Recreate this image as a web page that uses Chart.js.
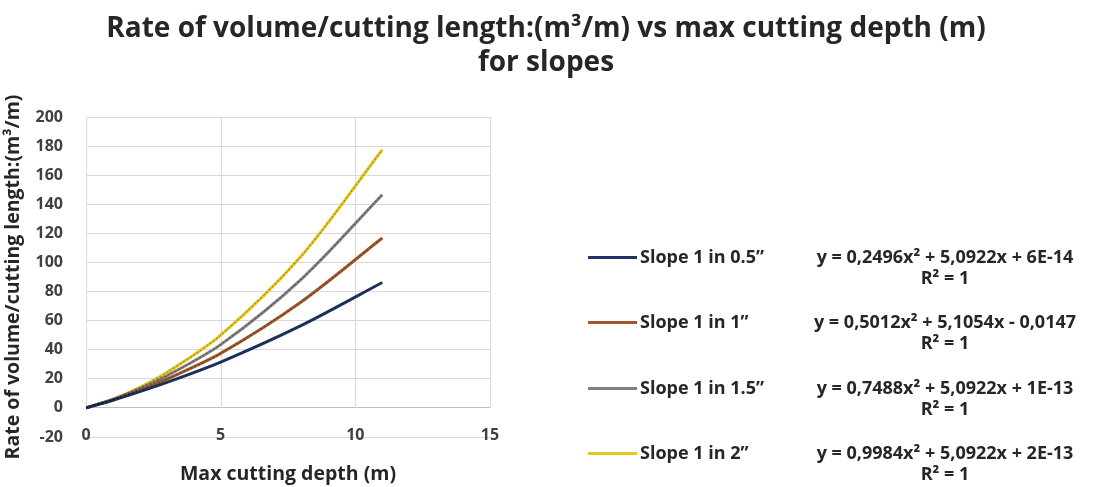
<!DOCTYPE html>
<html>
<head>
<meta charset="utf-8">
<script src="https://cdn.jsdelivr.net/npm/chart.js@4"></script>
<style>
    body { margin: 0; background: #fff; font-family: "Open Sans", sans-serif; }
    #wrap { position: relative; width: 1101px; height: 487px; }
    #title { position: absolute; left: 0; top: 9px; width: 1092px; text-align: center; font-weight: 700; font-size: 28px; line-height: 34px; color: #262626; }
    #legend { position: absolute; left: 0; top: 0; }
    .row { position: absolute; left: 588px; height: 0; }
    .swatch { position: absolute; left: 0; top: -1.5px; width: 49px; height: 3px; }
    .name { position: absolute; left: 52px; top: -13px; white-space: nowrap; font-weight: 700; font-size: 18px; color: #262626; }
    .eq { position: absolute; left: 357px; width: 0; top: -11px; text-align: center; font-weight: 700; font-size: 18px; color: #262626; line-height: 21px; }
    .eq span { display: block; white-space: nowrap; transform: translateX(-50%); width: max-content; }
</style>
</head>
<body>
<div id="wrap">
    <canvas id="slopeChart"></canvas>
    <div id="title">Rate of volume/cutting length:(m&sup3;/m) vs max cutting depth (m)<br>for slopes</div>
    <div id="legend"></div>
</div>
<script>
// max cutting depth (m)
const depths = [0, 1, 2, 3, 5, 8, 11];

// rate of volume / cutting length (m3/m)
const slope05 = [0, 5.3, 11.2, 17.5, 31.5, 56.7, 86.2];
const slope1 = [0, 5.6, 12.2, 19.8, 37.5, 73.0, 116.8];
const slope15 = [0, 5.8, 13.2, 22.0, 43.5, 88.6, 146.6];
const slope2 = [0, 6.1, 14.2, 24.3, 50.0, 104.6, 177.5];

const seriesNames = ['Slope 1 in 0.5\u201d', 'Slope 1 in 1\u201d', 'Slope 1 in 1.5\u201d', 'Slope 1 in 2\u201d'];
const seriesColors = ['#1f3462', '#a0582c', '#808080', '#e6c61e'];
const equations = [
    'y = 0,2496x\u00b2 + 5,0922x + 6E-14',
    'y = 0,5012x\u00b2 + 5,1054x - 0,0147',
    'y = 0,7488x\u00b2 + 5,0922x + 1E-13',
    'y = 0,9984x\u00b2 + 5,0922x + 2E-13'
];
const legendRows = [257, 322, 388, 453];

const xTicks = [0, 5, 10, 15];

const allSeries = [slope05, slope1, slope15, slope2];

// vertical grid only between 0 and 200 like the excel chart
const partialGrid = {
    id: 'partialGrid',
    beforeDatasetsDraw(chart) {
        const { ctx, scales: { x, y } } = chart;
        ctx.save();
        ctx.strokeStyle = '#d9d9d9';
        ctx.lineWidth = 1;
        xTicks.forEach(v => {
            const px = Math.round(x.getPixelForValue(v)) + 0.5;
            ctx.beginPath();
            ctx.moveTo(px, y.getPixelForValue(200));
            ctx.lineTo(px, y.getPixelForValue(0));
            ctx.stroke();
        });
        ctx.restore();
    }
};

const lines = allSeries.map((vals, i) => ({
    label: seriesNames[i],
    data: depths.map((d, j) => ({ x: d, y: vals[j] })),
    borderColor: seriesColors[i],
    borderWidth: 3,
    pointRadius: 0,
    tension: 0.3,
    fill: false,
    order: 2
}));

// dotted trendlines drawn on top of each series
const trends = allSeries.map((vals, i) => ({
    label: seriesNames[i] + ' trend',
    data: depths.map((d, j) => ({ x: d, y: vals[j] })),
    borderColor: 'rgba(0,0,0,0.28)',
    borderWidth: 1.2,
    borderDash: [2, 2],
    pointRadius: 0,
    tension: 0.3,
    fill: false,
    order: 1
}));

const ctx = document.getElementById('slopeChart').getContext('2d');

new Chart(ctx, {
    type: 'line',
    data: { datasets: lines.concat(trends) },
    options: {
        responsive: true,
        maintainAspectRatio: false,
        animation: false,
        layout: {
            padding: { left: 0, right: 611, top: 117, bottom: 50 }
        },
        plugins: {
            legend: { display: false },
            tooltip: { enabled: false },
            title: { display: false }
        },
        scales: {
            x: {
                type: 'linear',
                position: { y: 0 },
                min: 0,
                max: 15,
                ticks: {
                    stepSize: 5,
                    padding: 18,
                    color: '#404040',
                    font: { family: 'Open Sans', size: 16, weight: 'bold' }
                },
                grid: { drawOnChartArea: false, drawTicks: false },
                border: { display: true, color: '#bfbfbf', width: 1 },
                title: {
                    display: true,
                    text: 'Max cutting depth (m)',
                    color: '#262626',
                    font: { family: 'Open Sans', size: 19.5, weight: 'bold' },
                    padding: { top: 0, bottom: 0 }
                }
            },
            y: {
                min: -20,
                max: 200,
                afterFit(scale) { scale.width = 86; },
                ticks: {
                    stepSize: 20,
                    padding: 23,
                    color: '#404040',
                    font: { family: 'Open Sans', size: 16, weight: 'bold' }
                },
                grid: { color: '#d9d9d9', drawTicks: false },
                border: { display: false },
                title: {
                    display: true,
                    text: 'Rate of volume/cutting length:(m\u00b3/m)',
                    color: '#262626',
                    font: { family: 'Open Sans', size: 19.5, weight: 'bold' },
                    padding: { top: 2, bottom: 0 }
                }
            }
        }
    },
    plugins: [partialGrid]
});

// legend with trendline labels on the right
const legend = document.getElementById('legend');
seriesNames.forEach((name, i) => {
    const row = document.createElement('div');
    row.className = 'row';
    row.style.top = legendRows[i] + 'px';
    row.innerHTML =
        '<div class="swatch" style="background:' + seriesColors[i] + '"></div>' +
        '<div class="name">' + name + '</div>' +
        '<div class="eq"><span>' + equations[i] + '</span><span>R\u00b2 = 1</span></div>';
    legend.appendChild(row);
});
</script>
</body>
</html>
